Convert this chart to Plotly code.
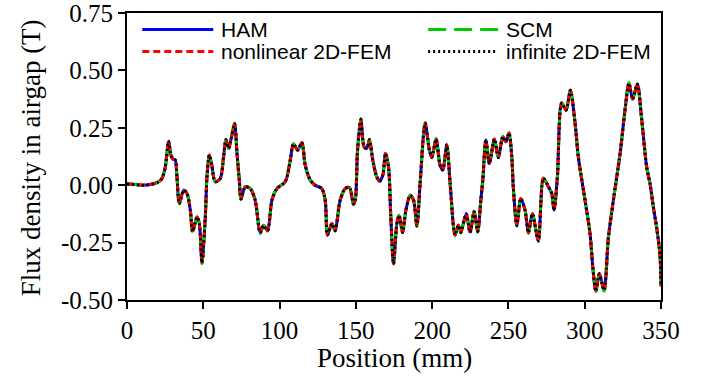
import plotly.graph_objects as go

# Position along the airgap (mm)
position = [0, 5, 10, 15, 20, 22.9, 25.1, 27.3, 28.8, 30.5, 31.6, 32.7, 34.3, 37.1, 39.3, 41.5, 43.0, 45.9, 47.4, 49.1,
            51.3, 52.4, 53.9, 55.5, 57.8, 61.1, 63.3, 64.8, 66.6, 68.1, 70.5, 72.1, 73.6, 74.7, 77.5, 80.8, 84.0, 87.3, 89.5, 92.1,
            95.0, 98.2, 103.7, 107.0, 109.1, 111.8, 114.6, 116.8, 120.1, 123.3, 127.7, 129.9, 131.4, 134.3, 136.4, 139.7, 143.0, 145.8, 148.4, 149.6,
            151.1, 153.3, 155.4, 157.2, 158.9, 161.1, 163.5, 165.5, 167.7, 169.4, 171.4, 172.9, 174.7, 176.9, 178.4, 180.6, 182.8, 185.6, 187.8, 190.0,
            192.1, 195.4, 198.2, 199.8, 202.6, 205.2, 207.0, 209.6, 211.8, 215.0, 217.2, 218.8, 222.3, 224.9, 227.5, 229.9, 231.9, 233.2, 235.2, 237.5,
            240.8, 243.4, 246.3, 248.3, 250.4, 252.2, 253.2, 255.5, 258.1, 260.9, 263.1, 265.7, 269.6, 272.9, 276.2, 278.4, 279.9, 282.1, 284.9, 287.8,
            290.6, 293.7, 295.8, 300.2, 303.5, 305.3, 307.3, 309.6, 312.7, 315.5, 318.8, 323.2, 326.4, 329.0, 331.4, 334.5, 337.3, 340.6, 342.8, 345.0,
            347.1, 349.3, 350.0]

ham = [0.005, 0.003, 0.0, 0.003, 0.012, 0.029, 0.08, 0.19, 0.13, 0.112, 0.11, 0.04, -0.08, -0.022, -0.036, -0.11, -0.20, -0.138, -0.167, -0.335,
       -0.14, 0.036, 0.13, 0.09, 0.015, 0.029, 0.124, 0.197, 0.16, 0.197, 0.266, 0.138, 0.022, -0.058, -0.007, -0.015, -0.065, -0.205, -0.175, -0.196,
       -0.065, -0.015, 0.015, 0.109, 0.18, 0.153, 0.185, 0.087, 0.022, 0.0, -0.015, -0.065, -0.215, -0.167, -0.196, -0.065, -0.015, -0.01, -0.08, -0.065,
       0.153, 0.284, 0.167, 0.16, 0.197, 0.109, 0.04, 0.017, 0.044, 0.138, 0.08, -0.138, -0.34, -0.167, -0.131, -0.204, -0.109, -0.044, -0.065, -0.175,
       0.007, 0.269, 0.153, 0.121, 0.2, 0.087, 0.066, 0.175, 0.007, -0.215, -0.175, -0.204, -0.124, -0.204, -0.116, -0.2, -0.065, 0.022, 0.197, 0.094,
       0.2, 0.121, 0.211, 0.189, 0.226, 0.124, -0.007, -0.175, -0.058, -0.109, -0.204, -0.124, -0.24, 0.029, -0.007, -0.036, -0.109, 0.036, 0.357, 0.327,
       0.412, 0.27, 0.124, -0.065, -0.211, -0.357, -0.459, -0.386, -0.455, -0.23, -0.065, 0.138, 0.327, 0.444, 0.375, 0.44, 0.29, 0.08, 0.007, -0.095,
       -0.182, -0.3, -0.44]

scm = [0.005, 0.003, 0.0, 0.003, 0.012, 0.029, 0.08, 0.195, 0.13, 0.112, 0.11, 0.04, -0.082, -0.022, -0.036, -0.11, -0.205, -0.138, -0.167, -0.342,
       -0.14, 0.036, 0.133, 0.09, 0.015, 0.029, 0.124, 0.2, 0.16, 0.197, 0.27, 0.138, 0.022, -0.062, -0.007, -0.015, -0.065, -0.21, -0.175, -0.2,
       -0.065, -0.015, 0.015, 0.109, 0.182, 0.153, 0.187, 0.087, 0.022, 0.0, -0.015, -0.065, -0.22, -0.167, -0.2, -0.065, -0.015, -0.01, -0.085, -0.065,
       0.153, 0.29, 0.167, 0.16, 0.2, 0.109, 0.04, 0.017, 0.044, 0.14, 0.08, -0.138, -0.343, -0.167, -0.131, -0.208, -0.109, -0.044, -0.065, -0.18,
       0.007, 0.273, 0.153, 0.121, 0.203, 0.087, 0.066, 0.178, 0.007, -0.22, -0.175, -0.208, -0.124, -0.208, -0.116, -0.205, -0.065, 0.022, 0.2, 0.094,
       0.203, 0.121, 0.213, 0.189, 0.228, 0.124, -0.007, -0.178, -0.058, -0.109, -0.21, -0.124, -0.245, 0.031, -0.007, -0.036, -0.112, 0.036, 0.36, 0.327,
       0.415, 0.27, 0.124, -0.065, -0.211, -0.357, -0.466, -0.386, -0.462, -0.23, -0.065, 0.138, 0.327, 0.447, 0.375, 0.442, 0.29, 0.08, 0.007, -0.095,
       -0.182, -0.3, -0.44]

fem_nonlinear = [0.005, 0.003, 0.0, 0.003, 0.012, 0.029, 0.08, 0.192, 0.13, 0.112, 0.11, 0.04, -0.08, -0.022, -0.036, -0.11, -0.202, -0.138, -0.167, -0.338,
       -0.14, 0.036, 0.131, 0.09, 0.015, 0.029, 0.124, 0.198, 0.16, 0.197, 0.268, 0.138, 0.022, -0.06, -0.007, -0.015, -0.065, -0.207, -0.175, -0.198,
       -0.065, -0.015, 0.015, 0.109, 0.181, 0.153, 0.186, 0.087, 0.022, 0.0, -0.015, -0.065, -0.217, -0.167, -0.198, -0.065, -0.015, -0.01, -0.082, -0.065,
       0.153, 0.287, 0.167, 0.16, 0.198, 0.109, 0.04, 0.017, 0.044, 0.139, 0.08, -0.138, -0.342, -0.167, -0.131, -0.206, -0.109, -0.044, -0.065, -0.177,
       0.007, 0.271, 0.153, 0.121, 0.201, 0.087, 0.066, 0.176, 0.007, -0.217, -0.175, -0.206, -0.124, -0.206, -0.116, -0.202, -0.065, 0.022, 0.198, 0.094,
       0.201, 0.121, 0.212, 0.189, 0.227, 0.124, -0.007, -0.176, -0.058, -0.109, -0.207, -0.124, -0.242, 0.03, -0.007, -0.036, -0.11, 0.036, 0.358, 0.327,
       0.414, 0.27, 0.124, -0.065, -0.211, -0.357, -0.462, -0.386, -0.458, -0.23, -0.065, 0.138, 0.327, 0.445, 0.375, 0.441, 0.29, 0.08, 0.007, -0.095,
       -0.182, -0.3, -0.44]

fem_infinite = [0.005, 0.003, 0.0, 0.003, 0.012, 0.029, 0.08, 0.192, 0.13, 0.112, 0.11, 0.04, -0.08, -0.022, -0.036, -0.11, -0.202, -0.138, -0.167, -0.338,
       -0.14, 0.036, 0.131, 0.09, 0.015, 0.029, 0.124, 0.198, 0.16, 0.197, 0.268, 0.138, 0.022, -0.06, -0.007, -0.015, -0.065, -0.207, -0.175, -0.198,
       -0.065, -0.015, 0.015, 0.109, 0.181, 0.153, 0.186, 0.087, 0.022, 0.0, -0.015, -0.065, -0.217, -0.167, -0.198, -0.065, -0.015, -0.01, -0.082, -0.065,
       0.153, 0.287, 0.167, 0.16, 0.198, 0.109, 0.04, 0.017, 0.044, 0.139, 0.08, -0.138, -0.342, -0.167, -0.131, -0.206, -0.109, -0.044, -0.065, -0.177,
       0.007, 0.271, 0.153, 0.121, 0.201, 0.087, 0.066, 0.176, 0.007, -0.217, -0.175, -0.206, -0.124, -0.206, -0.116, -0.202, -0.065, 0.022, 0.198, 0.094,
       0.201, 0.121, 0.212, 0.189, 0.227, 0.124, -0.007, -0.176, -0.058, -0.109, -0.207, -0.124, -0.242, 0.03, -0.007, -0.036, -0.11, 0.036, 0.358, 0.327,
       0.414, 0.27, 0.124, -0.065, -0.211, -0.357, -0.462, -0.386, -0.458, -0.23, -0.065, 0.138, 0.327, 0.445, 0.375, 0.441, 0.29, 0.08, 0.007, -0.095,
       -0.182, -0.3, -0.44]

series_names = ["HAM", "SCM", "nonlinear 2D-FEM", "infinite 2D-FEM"]
x_ticks = [0, 50, 100, 150, 200, 250, 300, 350]
y_ticks = [-0.50, -0.25, 0.00, 0.25, 0.50, 0.75]
x_title = "Position (mm)"
y_title = "Flux density in airgap (T)"

styles = [
    dict(color="#0000FF", width=3, dash="solid"),
    dict(color="#00CC00", width=3, dash="18px,8px"),
    dict(color="#FF0000", width=3, dash="7px,4px"),
    dict(color="#000000", width=3, dash="2px,3px"),
]

fig = go.Figure()
for name, vals, st in zip(series_names, [ham, scm, fem_nonlinear, fem_infinite], styles):
    fig.add_trace(go.Scatter(x=position, y=vals, mode="lines", name=name,
                             line=dict(color=st["color"], width=st["width"], dash=st["dash"],
                                       shape="spline", smoothing=0.8),
                             showlegend=False))

# pixel -> paper helpers for the plot frame
L, R, T, B = 126.7, 661.0, 13.0, 300.0
def px(xp):
    return (xp - L) / (R - L)
def py(yp):
    return (B - yp) / (B - T)

# Manual legend (two columns, inside the plot area)
legend_items = [
    (series_names[0], styles[0], 142, 213, 220, 29.5),
    (series_names[2], styles[2], 142, 213, 220, 51.5),
    (series_names[1], styles[1], 428, 498, 505, 29.5),
    (series_names[3], styles[3], 428, 498, 505, 51.5),
]
for name, st, x0, x1, xt, yc in legend_items:
    fig.add_shape(type="line", xref="paper", yref="paper",
                  x0=px(x0), x1=px(x1), y0=py(yc), y1=py(yc),
                  line=dict(color=st["color"], width=st["width"], dash=st["dash"]))
    fig.add_annotation(xref="paper", yref="paper", x=px(xt), y=py(yc), text=name,
                       showarrow=False, xanchor="left", yanchor="middle", borderpad=0,
                       font=dict(family="Liberation Sans, Arial", size=21, color="black"))

serif = "Liberation Serif"

# Axis titles
fig.add_annotation(xref="paper", yref="paper", x=px(394), y=py(358), text=x_title,
                   showarrow=False, xanchor="center", yanchor="middle", borderpad=0,
                   font=dict(family=serif, size=27, color="black"))
fig.add_annotation(xref="paper", yref="paper", x=px(31), y=py(158), text=y_title,
                   textangle=-90, showarrow=False, xanchor="center", yanchor="middle", borderpad=0,
                   font=dict(family=serif, size=27, color="black"))

axis_common = dict(showline=True, linecolor="black", linewidth=2, mirror=True,
                   ticks="outside", ticklen=7, tickwidth=2, tickcolor="black",
                   showgrid=False, zeroline=False, ticklabeloverflow="allow",
                   automargin=False,
                   tickfont=dict(family=serif, size=25, color="black"))

fig.update_layout(
    width=706, height=381,
    margin=dict(l=127, r=45, t=13, b=81),
    paper_bgcolor="white", plot_bgcolor="white",
    font=dict(family=serif, color="black"),
    xaxis=dict(range=[-0.01, 350.01], tickvals=x_ticks, ticktext=[str(v) for v in x_ticks],
               **axis_common),
    yaxis=dict(range=[-0.5001, 0.7501], tickvals=y_ticks, ticktext=[f"{v:.2f}" for v in y_ticks],
               **axis_common),
)

fig.write_html("out.html")
